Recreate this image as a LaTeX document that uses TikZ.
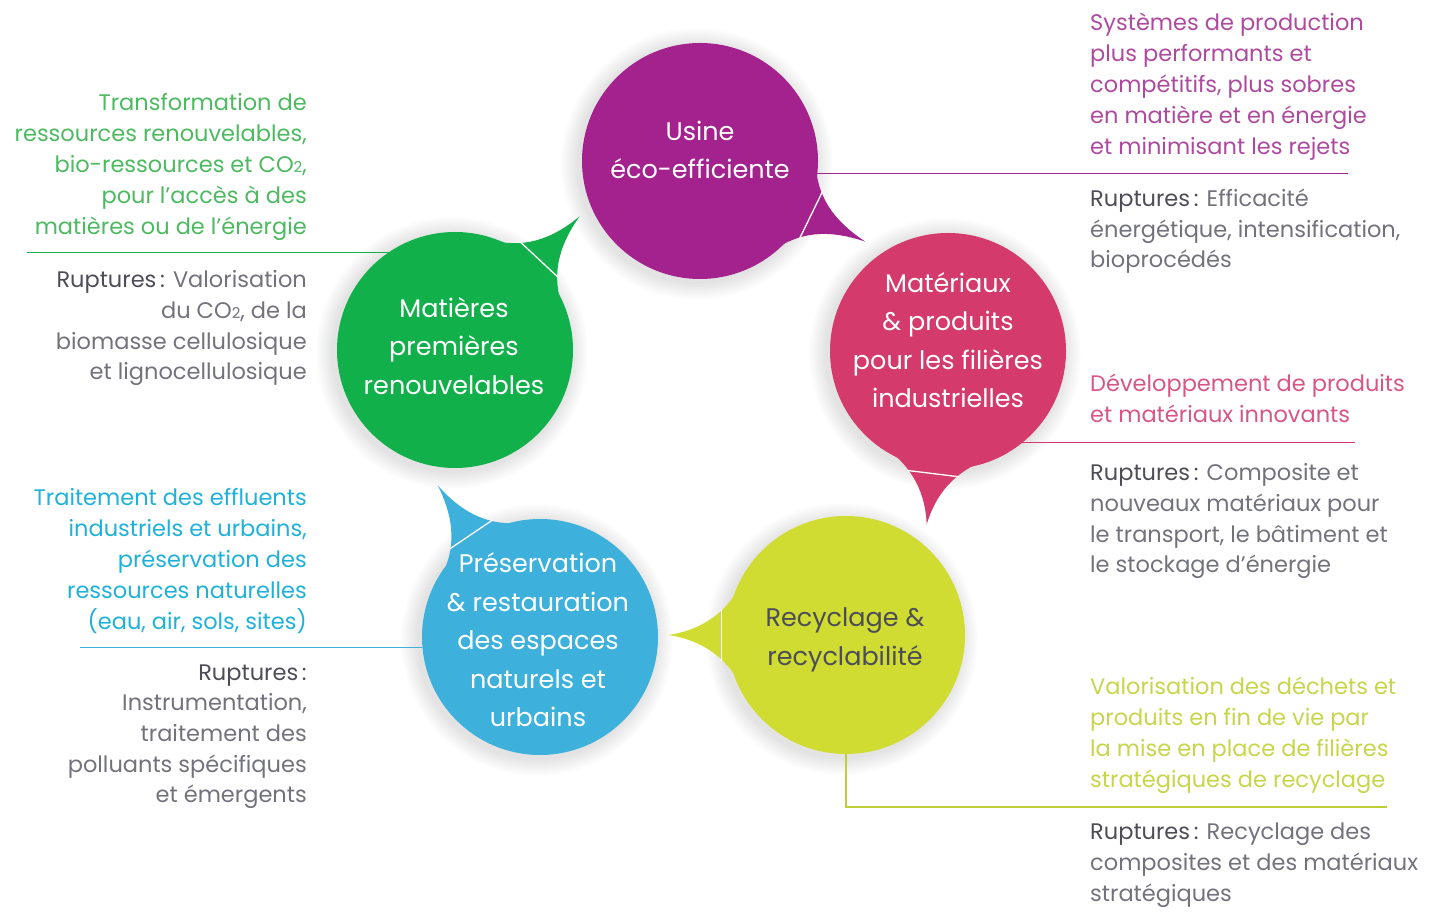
\documentclass[tikz,border=0pt]{standalone}
\usepackage{fontspec}
\setmainfont{Poppins}
\usetikzlibrary{calc}
\definecolor{cpurple}{HTML}{A3228D}
\definecolor{tpurple}{HTML}{AE4A9E}
\definecolor{cpink}{HTML}{D43A6B}
\definecolor{tpink}{HTML}{D85682}
\definecolor{cgreen}{HTML}{12B04B}
\definecolor{tgreen}{HTML}{4DB960}
\definecolor{cblue}{HTML}{3DB0DB}
\definecolor{tblue}{HTML}{1FB1D9}
\definecolor{cyellow}{HTML}{D0DC32}
\definecolor{tyellow}{HTML}{C6D54A}
\definecolor{lyellow}{HTML}{BFCF3A}
\definecolor{gdark}{HTML}{4D4D57}
\definecolor{glight}{HTML}{72727C}
\newcommand{\txtfont}{\fontsize{22.5}{31.2}\selectfont}
\newcommand{\graytxtfont}{\fontsize{22.5}{30.7}\selectfont}
\newcommand{\bubfont}{\fontsize{25.5}{38.5}\selectfont}
\newcommand{\rup}{{\color{gdark}Ruptures\,:}}
\newcommand{\cotwo}{CO{\fontsize{15}{15}\selectfont 2}}
\newcommand{\bubbletail}[5]{%
  \fill[#5] ($(#1)+(#3-25:#2*0.98)$) .. controls ($(#1)+(#3-10:#2*1.03)$) and ($(#1)+(#3-2:#2*1.22)$) .. ($(#1)+(#3:#2*#4)$)
     .. controls ($(#1)+(#3+2:#2*1.22)$) and ($(#1)+(#3+10:#2*1.03)$) .. ($(#1)+(#3+25:#2*0.98)$) -- cycle;
  \draw[white, line width=1.3] ($(#1)+(#3-12:#2*1.07)$) -- ($(#1)+(#3+12:#2*1.07)$);
}
\begin{document}
\begin{tikzpicture}[x=1pt,y=1pt,
  bub/.style={circle, minimum size=#1, inner sep=0, outer sep=0},
  btxt/.style={align=center, inner sep=0, font=\bubfont, text=white},
  rtxt/.style={align=right, anchor=base east, inner sep=0, font=\txtfont},
  ltxt/.style={align=left, anchor=base west, inner sep=0, font=\txtfont},
  gtxt/.style={font=\graytxtfont, text=glight},
  conn/.style={line width=1.2}]
\useasboundingbox (0,0) rectangle (1433,911);

% soft shadows
\foreach \cx/\cy in {697/747, 945/557, 452/558, 537/271, 842/272}{
  \foreach \k in {1,...,7}{
    \fill[black, opacity=0.016] (\cx,\cy) circle[radius=118+\k*2.5];
  }
}

% bubbles
\node[bub=236, fill=cpurple] (usine) at (700,750) {};
\bubbletail{usine}{118}{-26}{1.56}{cpurple}
\node[bub=236, fill=cpink] (mat) at (948,560) {};
\bubbletail{mat}{118}{-97}{1.48}{cpink}
\node[bub=236, fill=cgreen] (prem) at (455,561) {};
\bubbletail{prem}{118}{47}{1.55}{cgreen}
\node[bub=236, fill=cblue] (pres) at (540,274) {};
\bubbletail{pres}{118}{124}{1.55}{cblue}
\node[bub=238, fill=cyellow] (recy) at (846,276) {};
\bubbletail{recy}{119}{180}{1.49}{cyellow}

% bubble texts
\node[btxt] (usineT) at (700,761) {Usine\\éco-efficiente};
\node[btxt] (matT) at (948,571) {Matériaux\\\& produits\\pour les filières\\industrielles};
\node[btxt] (premT) at (454,565) {Matières\\premières\\renouvelables};
\node[btxt] (presT) at (538,271) {Préservation\\\& restauration\\des espaces\\naturels et\\urbains};
\node[btxt, text=gdark] (recyT) at (845,271) {Recyclage \&\\recyclabilité};

% connectors
\coordinate (pend) at (1348,739);
\draw[conn, cpurple] (usine.-6) -- (usine.-6 -| pend);
\coordinate (kend) at (1355,468);
\draw[conn, cpink] (mat.-51) -- (mat.-51 -| kend);
\coordinate (gend) at (27,658);
\draw[conn, cgreen] (prem.124.5) -- (prem.124.5 -| gend);
\coordinate (bend) at (80,262);
\draw[conn, cblue] (pres.185.5) -- (pres.185.5 -| bend);
\coordinate (yend) at (1387,104);
\draw[conn, lyellow] (recy.-90) -- (recy.-90 |- yend) -- (yend);

% side texts (anchored at the baseline of the last line)
\node[rtxt, text=tgreen] (greenH) at (307,676) {Transformation de\\ressources renouvelables,\\bio-ressources et \cotwo,\\pour l’accès à des\\matières ou de l’énergie};
\node[rtxt, gtxt] (greenR) at (307,531) {\rup{} Valorisation\\du \cotwo, de la\\biomasse cellulosique\\et lignocellulosique};

\node[rtxt, text=tblue] (blueH) at (307,281) {Traitement des effluents\\industriels et urbains,\\préservation des\\ressources naturelles\\(eau, air, sols, sites)};
\node[rtxt, gtxt] (blueR) at (307,108) {\rup\\Instrumentation,\\traitement des\\polluants spécifiques\\et émergents};

\node[ltxt, text=tpurple] (purpH) at (1090,756) {Systèmes de production\\plus performants et\\compétitifs, plus sobres\\en matière et en énergie\\et minimisant les rejets};
\node[ltxt, gtxt] (purpR) at (1090,643) {\rup{} Efficacité\\énergétique, intensification,\\bioprocédés};

\node[ltxt, text=tpink] (pinkH) at (1090,488) {Développement de produits\\et matériaux innovants};
\node[ltxt, gtxt] (pinkR) at (1090,338) {\rup{} Composite et\\nouveaux matériaux pour\\le transport, le bâtiment et\\le stockage d’énergie};

\node[ltxt, text=tyellow] (yelH) at (1090,123) {Valorisation des déchets et\\produits en fin de vie par\\la mise en place de filières\\stratégiques de recyclage};
\node[ltxt, gtxt] (yelR) at (1090,10) {\rup{} Recyclage des\\composites et des matériaux\\stratégiques};
\end{tikzpicture}
\end{document}
